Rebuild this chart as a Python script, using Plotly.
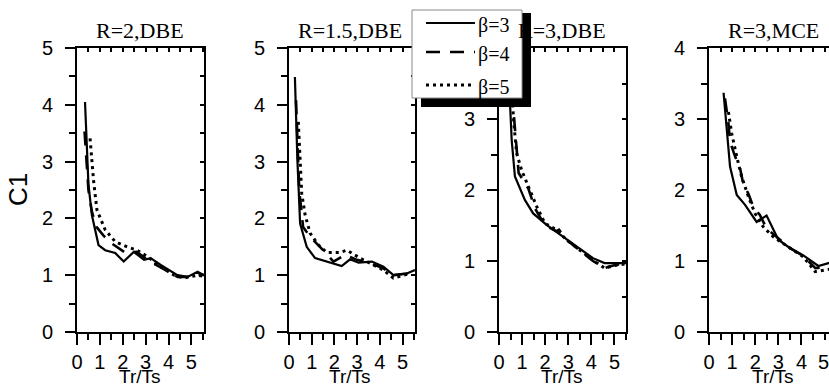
import plotly.graph_objects as go

W, H = 829, 386

# ---------------- data ----------------
titles = ["R=2,DBE", "R=1.5,DBE", "R=3,DBE", "R=3,MCE"]
series_names = ["β=3", "β=4", "β=5"]
x_ticks = [0, 1, 2, 3, 4, 5]

p1_x_b3 = [0.35, 0.5, 0.65, 0.94, 1.23, 1.67, 2.04, 2.48, 2.93, 3.22, 3.66, 4.39, 4.83, 5.27, 5.55]
p1_y_b3 = [4.05, 2.6, 2.06, 1.53, 1.44, 1.39, 1.24, 1.41, 1.27, 1.30, 1.18, 1.0, 0.97, 1.06, 1.0]
p1_x_b4 = [0.33, 0.5, 0.65, 0.85, 1.15, 1.55, 2.1, 2.6, 3.2, 3.7, 4.4, 4.8, 5.3, 5.55]
p1_y_b4 = [3.53, 2.5, 2.12, 1.85, 1.7, 1.55, 1.40, 1.41, 1.24, 1.13, 0.97, 0.97, 1.02, 1.0]
p1_x_b5 = [0.57, 0.72, 0.87, 1.23, 1.67, 2.19, 2.63, 3.07, 3.66, 4.24, 4.68, 5.27, 5.55]
p1_y_b5 = [3.41, 2.68, 2.15, 1.8, 1.59, 1.50, 1.44, 1.33, 1.15, 1.0, 0.95, 1.0, 0.98]

p2_x_b3 = [0.26, 0.37, 0.49, 0.78, 1.15, 1.66, 2.32, 2.69, 3.06, 3.65, 4.16, 4.6, 5.19, 5.55]
p2_y_b3 = [4.49, 3.03, 1.91, 1.50, 1.30, 1.24, 1.16, 1.28, 1.22, 1.24, 1.15, 1.0, 1.03, 1.09]
p2_x_b4 = [0.31, 0.45, 0.62, 0.93, 1.5, 1.96, 2.47, 2.99, 3.57, 4.16, 4.6, 5.19, 5.55]
p2_y_b4 = [4.08, 2.5, 1.85, 1.68, 1.44, 1.24, 1.36, 1.27, 1.21, 1.12, 1.0, 1.03, 1.09]
p2_x_b5 = [0.41, 0.49, 0.56, 0.71, 0.93, 1.3, 1.66, 2.25, 2.55, 3.13, 3.72, 4.16, 4.6, 5.05, 5.34]
p2_y_b5 = [3.70, 3.03, 2.44, 2.06, 1.74, 1.53, 1.40, 1.40, 1.44, 1.30, 1.18, 1.09, 0.95, 1.0, 1.03]

p3_x_b3 = [0.42, 0.47, 0.55, 0.69, 1.12, 1.48, 2.06, 2.49, 2.92, 3.49, 4.07, 4.57, 5.22, 5.5]
p3_y_b3 = [3.9, 3.27, 2.70, 2.19, 1.86, 1.67, 1.51, 1.41, 1.30, 1.18, 1.04, 0.97, 0.97, 0.97]
p3_x_b4 = [0.48, 0.62, 0.76, 0.85, 1.27, 1.56, 1.99, 2.49, 2.6, 2.92, 3.5, 4.07, 4.57, 5.1, 5.5]
p3_y_b4 = [3.7, 3.13, 2.56, 2.24, 2.02, 1.74, 1.50, 1.42, 1.44, 1.30, 1.15, 1.0, 0.90, 0.95, 0.96]
p3_x_b5 = [0.55, 0.62, 0.76, 0.98, 1.27, 1.63, 1.99, 2.49, 2.92, 3.49, 4.07, 4.57, 5.07, 5.5]
p3_y_b5 = [3.6, 3.03, 2.52, 2.28, 2.05, 1.77, 1.53, 1.44, 1.30, 1.15, 1.01, 0.90, 0.94, 0.96]

p4_x_b3 = [0.63, 0.77, 0.91, 1.2, 1.56, 2.06, 2.49, 3.0, 3.51, 4.08, 4.73, 5.17, 5.5]
p4_y_b3 = [3.37, 2.85, 2.33, 1.93, 1.79, 1.55, 1.64, 1.30, 1.18, 1.08, 0.93, 0.97, 1.0]
p4_x_b4 = [0.69, 0.84, 0.91, 1.13, 1.34, 1.48, 1.7, 1.92, 2.2, 2.49, 2.92, 3.51, 4.08, 4.6, 5.17, 5.5]
p4_y_b4 = [3.29, 2.94, 2.68, 2.47, 2.31, 2.09, 1.95, 1.76, 1.65, 1.46, 1.34, 1.18, 1.07, 0.9, 0.92, 0.95]
p4_x_b5 = [0.84, 0.98, 1.2, 1.41, 1.7, 1.99, 2.35, 2.78, 3.51, 4.08, 4.59, 5.1, 5.5]
p4_y_b5 = [3.10, 2.80, 2.47, 2.19, 1.91, 1.67, 1.48, 1.34, 1.18, 1.06, 0.85, 0.87, 0.9]

y_max = [5, 5, 4, 4]
x_max = [5.55, 5.55, 5.5, 5.19]

# ---------------- layout helpers ----------------
dom_px = [(77, 204), (289, 415), (499, 626), (709, 829)]
title_cx = [140, 350, 562, 773]
y_top_px, y_bot_px = 48, 332
ydom = [(H - y_bot_px) / H, (H - y_top_px) / H]

def px(x):
    return x / W

def py(y):
    return 1 - y / H

styles = [dict(color="black", width=2.2),
          dict(color="black", width=2.6, dash="14px,10px"),
          dict(color="black", width=3, dash="3px,4px")]

data = [
    [(p1_x_b3, p1_y_b3), (p1_x_b4, p1_y_b4), (p1_x_b5, p1_y_b5)],
    [(p2_x_b3, p2_y_b3), (p2_x_b4, p2_y_b4), (p2_x_b5, p2_y_b5)],
    [(p3_x_b3, p3_y_b3), (p3_x_b4, p3_y_b4), (p3_x_b5, p3_y_b5)],
    [(p4_x_b3, p4_y_b3), (p4_x_b4, p4_y_b4), (p4_x_b5, p4_y_b5)],
]

SANS = "Arial, Liberation Sans, sans-serif"
SERIF = "Liberation Serif, Times New Roman, serif"
tickfont = dict(family=SANS, size=20, color="black")
fig = go.Figure()
layout = {}
annotations = []
edge_labels = []

for i in range(4):
    n = i + 1
    xs = "" if n == 1 else str(n)
    ax_x, ax_y = "x" + xs, "y" + xs
    for k, (xv, yv) in enumerate(data[i]):
        fig.add_trace(go.Scatter(x=xv, y=yv, mode="lines", line=styles[k],
                                 name=series_names[k], showlegend=False,
                                 xaxis=ax_x, yaxis=ax_y, hoverinfo="skip"))
    d0, d1 = dom_px[i]
    # last panel is cut by the figure edge: its final tick label is placed at the edge
    tv = [t for t in x_ticks if t < x_max[i] - 0.3]
    edge_labels += [str(t) for t in x_ticks if t not in tv]
    layout["xaxis" + xs] = dict(
        domain=[px(d0), px(d1)], range=[0, x_max[i]], anchor=ax_y,
        showline=True, linecolor="black", linewidth=2, mirror=True,
        ticks="outside", ticklen=11, tickwidth=2, tickcolor="black",
        tickvals=tv, ticktext=[str(t) for t in tv],
        minor=dict(dtick=0.5, ticks="outside", ticklen=6, tickwidth=2, tickcolor="black"),
        showgrid=False, zeroline=False, tickfont=tickfont, ticklabelstandoff=0,
        automargin=False, fixedrange=True)
    layout["yaxis" + xs] = dict(
        domain=ydom, range=[0, y_max[i]], anchor=ax_x,
        showline=True, linecolor="black", linewidth=2, mirror=(n != 4),
        ticks="outside", ticklen=10, tickwidth=2, tickcolor="black",
        dtick=1, tick0=0,
        minor=dict(dtick=0.5, ticks="outside", ticklen=6, tickwidth=2, tickcolor="black"),
        showgrid=False, zeroline=False, tickfont=tickfont, ticklabelstandoff=8,
        automargin=False, fixedrange=True)
    # inward mirror ticks on top
    tx = str(n + 4)
    layout["xaxis" + tx] = dict(
        domain=[px(d0), px(d1)], range=[0, x_max[i]], overlaying=ax_x, anchor=ax_y,
        side="top", ticks="inside", ticklen=4, tickwidth=1.5, tickcolor="black",
        dtick=0.5, tick0=0, showticklabels=False, showline=False, showgrid=False,
        zeroline=False, automargin=False, fixedrange=True)
    fig.add_trace(go.Scatter(x=[None], y=[None], xaxis="x" + tx, yaxis=ax_y,
                             showlegend=False, hoverinfo="skip"))
    if n != 4:
        layout["yaxis" + tx] = dict(
            domain=ydom, range=[0, y_max[i]], overlaying=ax_y, anchor=ax_x,
            side="right", ticks="inside", ticklen=4, tickwidth=1.5, tickcolor="black",
            dtick=0.5, tick0=0, showticklabels=False, showline=False, showgrid=False,
            zeroline=False, automargin=False, fixedrange=True)
        fig.add_trace(go.Scatter(x=[None], y=[None], xaxis=ax_x, yaxis="y" + tx,
                                 showlegend=False, hoverinfo="skip"))
    cx = title_cx[i]
    annotations.append(dict(text=titles[i], x=px(cx), y=py(31), xref="paper", yref="paper",
                            showarrow=False, xanchor="center", yanchor="middle",
                            font=dict(family=SERIF, size=22, color="black")))
    annotations.append(dict(text="Tr/Ts", x=px(cx), y=py(376), xref="paper", yref="paper",
                            showarrow=False, xanchor="center", yanchor="middle",
                            font=dict(family=SANS, size=19, color="black")))

annotations.append(dict(text="C1", x=px(18), y=py(190), xref="paper", yref="paper",
                        showarrow=False, textangle=-90, xanchor="center", yanchor="middle",
                        font=dict(family=SANS, size=26, color="black")))

# ---------------- legend (drawn manually, with drop shadow) ----------------
shapes = [
    dict(type="rect", xref="paper", yref="paper", x0=px(421), x1=px(531), y0=py(107), y1=py(13),
         fillcolor="black", line=dict(width=0), layer="above"),
    dict(type="rect", xref="paper", yref="paper", x0=px(412), x1=px(522), y0=py(98), y1=py(10),
         fillcolor="white", line=dict(color="#8a8a8a", width=1), layer="above"),
]
leg_rows = [23, 52, 85]
for k in range(3):
    shapes.append(dict(type="line", xref="paper", yref="paper", x0=px(426), x1=px(475),
                       y0=py(leg_rows[k]), y1=py(leg_rows[k]), line=styles[k], layer="above"))
    annotations.append(dict(text=series_names[k], x=px(476), y=py(leg_rows[k] + 2),
                            xref="paper", yref="paper", showarrow=False,
                            xanchor="left", yanchor="middle",
                            font=dict(family=SERIF, size=20, color="black")))

fig.update_layout(**layout)
fig.update_layout(width=W, height=H, margin=dict(l=0, r=0, t=0, b=0, autoexpand=False),
                  paper_bgcolor="white", plot_bgcolor="white",
                  showlegend=False, annotations=annotations, shapes=shapes)

# the edge tick label of the last panel, placed at the right edge of the page
if edge_labels:
    fig.update_layout(title=dict(text=edge_labels[0], x=1.0, xref="paper", xanchor="right",
                                 y=py(362), yref="paper", yanchor="middle",
                                 font=tickfont, automargin=False))

fig.write_html("out.html", config={"displayModeBar": False},
               post_script="document.body.style.margin='0';document.body.style.overflow='hidden';")
